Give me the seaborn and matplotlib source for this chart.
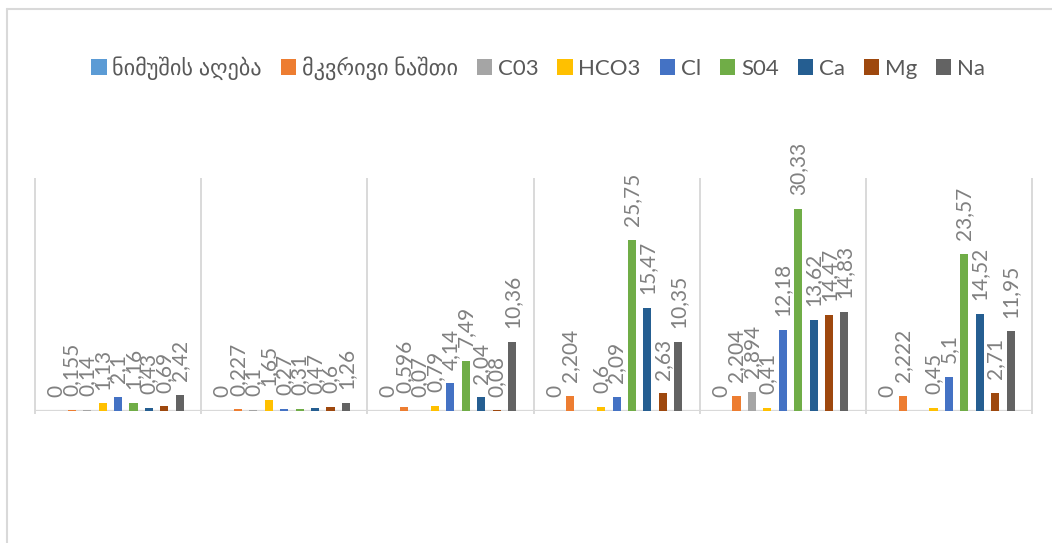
import numpy as np
import pandas as pd
import matplotlib
matplotlib.use("Agg")
import matplotlib.pyplot as plt
from matplotlib.lines import Line2D
import seaborn as sns

# Sampling points (category axis, labels are not drawn)
categories = ["1", "2", "3", "4", "5", "6"]

# Series names as shown in the legend
series = ["ნიმუშის აღება", "მკვრივი ნაშთი", "C03", "HCO3", "Cl", "S04", "Ca", "Mg", "Na"]

# Values per series, one entry per sampling point (nan = not measured)
sample_taking = [0, 0, 0, 0, 0, 0]
solid_residue = [0.155, 0.227, 0.596, 2.204, 2.204, 2.222]
co3 = [0.14, 0.1, 0.07, np.nan, 2.894, np.nan]
hco3 = [1.13, 1.65, 0.79, 0.6, 0.41, 0.45]
cl = [2.1, 0.27, 4.14, 2.09, 12.18, 5.1]
so4 = [1.16, 0.31, 7.49, 25.75, 30.33, 23.57]
ca = [0.43, 0.47, 2.04, 15.47, 13.62, 14.52]
mg = [0.69, 0.6, 0.08, 2.63, 14.47, 2.71]
na = [2.42, 1.26, 10.36, 10.35, 14.83, 11.95]

colors = ["#5B9BD5", "#ED7D31", "#A5A5A5", "#FFC000", "#4472C4",
          "#70AD47", "#255E91", "#9E480E", "#636363"]

values = [sample_taking, solid_residue, co3, hco3, cl, so4, ca, mg, na]
rows = []
for name, vals in zip(series, values):
    for cat, v in zip(categories, vals):
        rows.append({"point": cat, "series": name, "value": v})
df = pd.DataFrame(rows).dropna()

sns.set_theme(style="white")
plt.rcParams["font.family"] = ["Lato", "DejaVu Sans"]

fig = plt.figure(figsize=(10.52, 5.43), dpi=100)
ax = fig.add_axes([35 / 1052, 132 / 543, 997 / 1052, 233 / 543])

sns.barplot(data=df, x="point", y="value", hue="series",
            order=categories, hue_order=series, palette=colors,
            saturation=1, width=0.835, gap=0.48, errorbar=None,
            linewidth=0, legend=True, ax=ax)

label_color = "#808080"


def fmt(v):
    return f"{v:g}".replace(".", ",")


for cont in ax.containers:
    ax.bar_label(cont, labels=[fmt(v) for v in cont.datavalues],
                 rotation=90, padding=10, fontsize=15, color=label_color,
                 clip_on=False)

ax.set_xlim(-0.5, len(categories) - 0.5)
ax.set_ylim(0, 35)
for s in ax.spines.values():
    s.set_visible(False)
ax.set_xticks([])
ax.set_yticks([])
ax.set_xlabel("")
ax.set_ylabel("")

grid_color = "#D9D9D9"
ax.vlines(np.arange(-0.5, len(categories)), -0.4, 35, color=grid_color,
          lw=1.4, clip_on=False, zorder=0)
ax.axhline(0, color=grid_color, lw=1.6, zorder=0)

handles, labels = ax.get_legend_handles_labels()
ax.get_legend().remove()
fig.legend(handles, labels, loc="center", bbox_to_anchor=(538 / 1052, 1 - 68 / 543),
           ncol=9, frameon=False, fontsize=16, labelcolor="#595959",
           handlelength=0.7, handleheight=0.7, handletextpad=0.25,
           columnspacing=0.85)

# chart-area border (top and left edges)
fig.add_artist(Line2D([7 / 1052, 1.0], [1 - 9 / 543, 1 - 9 / 543],
                      transform=fig.transFigure, color=grid_color, lw=1.5))
fig.add_artist(Line2D([7 / 1052, 7 / 1052], [0.0, 1 - 9 / 543],
                      transform=fig.transFigure, color=grid_color, lw=1.5))

fig.savefig("out.png", dpi=100)
